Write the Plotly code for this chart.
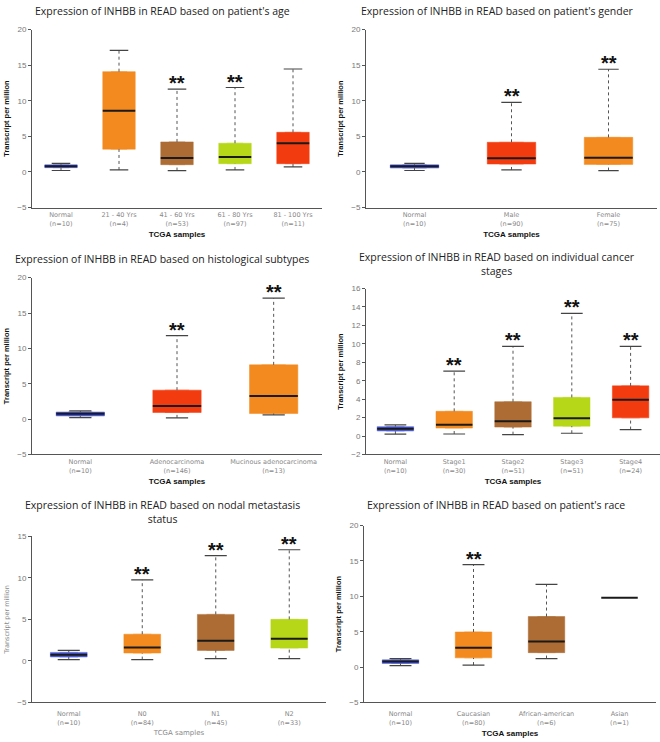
import plotly.graph_objects as go
from plotly.subplots import make_subplots

BLUE = "#4a5ad6"
ORANGE = "#f28a1f"
BROWN = "#ad6c34"
LIME = "#b6d618"
RED = "#f23c10"

# --- patient's age
age_labels = ["Normal<br>(n=10)", "21 - 40 Yrs<br>(n=4)", "41 - 60 Yrs<br>(n=53)",
              "61 - 80 Yrs<br>(n=97)", "81 - 100 Yrs<br>(n=11)"]
age_lower = [0.2, 0.28, 0.19, 0.28, 0.7]
age_q1 = [0.6, 3.2, 1.02, 1.16, 1.16]
age_med = [0.8, 8.6, 1.95, 2.09, 4.04]
age_q3 = [1.0, 14.1, 4.22, 4.04, 5.57]
age_upper = [1.2, 17.1, 11.64, 11.87, 14.47]
age_sig = [False, False, True, True, False]

# --- patient's gender
gender_labels = ["Normal<br>(n=10)", "Male<br>(n=90)", "Female<br>(n=75)"]
gender_lower = [0.2, 0.28, 0.19]
gender_q1 = [0.55, 1.11, 1.06]
gender_med = [0.8, 1.94, 1.99]
gender_q3 = [1.0, 4.17, 4.86]
gender_upper = [1.2, 9.77, 14.44]
gender_sig = [False, True, True]

# --- histological subtypes
histo_labels = ["Normal<br>(n=10)", "Adenocarcinoma<br>(n=146)", "Mucinous adenocarcinoma<br>(n=13)"]
histo_lower = [0.2, 0.18, 0.6]
histo_q1 = [0.45, 0.93, 0.79]
histo_med = [0.75, 1.86, 3.25]
histo_q3 = [1.0, 4.09, 7.67]
histo_upper = [1.15, 11.8, 17.1]
histo_sig = [False, True, True]

# --- individual cancer stages
stage_labels = ["Normal<br>(n=10)", "Stage1<br>(n=30)", "Stage2<br>(n=51)",
                "Stage3<br>(n=51)", "Stage4<br>(n=24)"]
stage_lower = [0.2, 0.22, 0.15, 0.3, 0.7]
stage_q1 = [0.55, 0.86, 0.97, 1.07, 1.97]
stage_med = [0.8, 1.22, 1.61, 1.93, 3.94]
stage_q3 = [1.02, 2.68, 3.72, 4.19, 5.44]
stage_upper = [1.2, 7.05, 9.73, 13.31, 9.73]
stage_sig = [False, True, True, True, True]

# --- nodal metastasis status
nodal_labels = ["Normal<br>(n=10)", "N0<br>(n=84)", "N1<br>(n=45)", "N2<br>(n=33)"]
nodal_lower = [0.16, 0.16, 0.28, 0.28]
nodal_q1 = [0.48, 0.95, 1.27, 1.55]
nodal_med = [0.76, 1.63, 2.43, 2.66]
nodal_q3 = [1.03, 3.22, 5.61, 5.01]
nodal_upper = [1.27, 9.78, 12.68, 13.4]
nodal_sig = [False, True, True, True]

# --- patient's race
race_labels = ["Normal<br>(n=10)", "Caucasian<br>(n=80)", "African-american<br>(n=6)", "Asian<br>(n=1)"]
race_lower = [0.19, 0.28, 1.2, 9.79]
race_q1 = [0.51, 1.3, 2.04, 9.79]
race_med = [0.79, 2.74, 3.62, 9.79]
race_q3 = [1.02, 4.96, 7.14, 9.79]
race_upper = [1.2, 14.47, 11.69, 9.79]
race_sig = [False, True, False, False]

panels = [
    dict(title="Expression of INHBB in READ based on patient's age",
         labels=age_labels, lower=age_lower, q1=age_q1, med=age_med, q3=age_q3, upper=age_upper,
         sig=age_sig, colors=[BLUE, ORANGE, BROWN, LIME, RED], yrange=[-5, 20], dtick=5,
         bw=0.56, cw=0.32, xdom=[32, 322], ydom=[26, 206], tpos=(162, 7), plain=False, lgap=1),
    dict(title="Expression of INHBB in READ based on patient's gender",
         labels=gender_labels, lower=gender_lower, q1=gender_q1, med=gender_med, q3=gender_q3,
         upper=gender_upper, sig=gender_sig, colors=[BLUE, RED, ORANGE], yrange=[-5, 20], dtick=5,
         bw=0.5, cw=0.21, xdom=[366, 657], ydom=[26, 206], tpos=(497, 7), plain=False, lgap=1),
    dict(title="Expression of INHBB in READ based on histological subtypes",
         labels=histo_labels, lower=histo_lower, q1=histo_q1, med=histo_med, q3=histo_q3,
         upper=histo_upper, sig=histo_sig, colors=[BLUE, RED, ORANGE], yrange=[-5, 20], dtick=5,
         bw=0.5, cw=0.23, xdom=[32, 322], ydom=[277, 456], tpos=(162, 258), plain=False, lgap=1),
    dict(title="Expression of INHBB in READ based on individual cancer<br>stages",
         labels=stage_labels, lower=stage_lower, q1=stage_q1, med=stage_med, q3=stage_q3,
         upper=stage_upper, sig=stage_sig, colors=[BLUE, ORANGE, BROWN, LIME, RED], yrange=[-2, 16],
         dtick=2, bw=0.62, cw=0.37, xdom=[366, 660], ydom=[288, 456], tpos=(497, 263.5), plain=False,
         lgap=1),
    dict(title="Expression of INHBB in READ based on nodal metastasis<br>status",
         labels=nodal_labels, lower=nodal_lower, q1=nodal_q1, med=nodal_med, q3=nodal_q3,
         upper=nodal_upper, sig=nodal_sig, colors=[BLUE, ORANGE, BROWN, LIME], yrange=[-5, 15],
         dtick=5, bw=0.5, cw=0.3, xdom=[32, 326], ydom=[539, 707], tpos=(162, 514.5), plain=True,
         lgap=5),
    dict(title="Expression of INHBB in READ based on patient's race",
         labels=race_labels, lower=race_lower, q1=race_q1, med=race_med, q3=race_q3,
         upper=race_upper, sig=race_sig, colors=[BLUE, ORANGE, BROWN, BROWN], yrange=[-5, 20],
         dtick=5, bw=0.5, cw=0.3, xdom=[364, 656], ydom=[528, 707], tpos=(496, 507), plain=False,
         lgap=5),
]

W, H = 660, 742
fig = make_subplots(rows=3, cols=2)

for k, p in enumerate(panels):
    row, col = k // 2 + 1, k % 2 + 1
    n = len(p["labels"])
    xs = list(range(n))
    whx, why, capx, capy, medx, medy = [], [], [], [], [], []
    for i in xs:
        lo, a, m, b, hi = p["lower"][i], p["q1"][i], p["med"][i], p["q3"][i], p["upper"][i]
        if b > a:
            fig.add_trace(go.Box(x=[i], q1=[a], median=[m], q3=[b], lowerfence=[a], upperfence=[b],
                                 width=p["bw"], fillcolor=p["colors"][i],
                                 line=dict(color=p["colors"][i], width=0.5),
                                 hoverinfo="skip"), row=row, col=col)
        if hi > b:
            whx += [i, i, None]
            why += [b, hi, None]
            capx += [i - p["cw"] / 2, i + p["cw"] / 2, None]
            capy += [hi, hi, None]
        if lo < a:
            whx += [i, i, None]
            why += [lo, a, None]
            capx += [i - p["cw"] / 2, i + p["cw"] / 2, None]
            capy += [lo, lo, None]
        medx += [i - p["bw"] / 2, i + p["bw"] / 2, None]
        medy += [m, m, None]
        if p["sig"][i]:
            fig.add_annotation(x=i, y=hi, text="<b>**</b>", showarrow=False, yanchor="bottom",
                               yshift=-7, font=dict(size=20, color="#111", family="Liberation Sans"),
                               row=row, col=col)
    fig.add_trace(go.Scatter(x=whx, y=why, mode="lines", line=dict(color="#555", width=1, dash="dot"),
                             hoverinfo="skip"), row=row, col=col)
    fig.add_trace(go.Scatter(x=capx, y=capy, mode="lines", line=dict(color="#444", width=1.2),
                             hoverinfo="skip"), row=row, col=col)
    fig.add_trace(go.Scatter(x=medx, y=medy, mode="lines", line=dict(color="#1a1a1a", width=2),
                             hoverinfo="skip"), row=row, col=col)

    if p["plain"]:
        xt_font = dict(size=7, color="#888", family="DejaVu Sans")
        yt_font = dict(size=6.5, color="#888", family="DejaVu Sans")
        xt, yt = "TCGA samples", "Transcript per million"
    else:
        xt_font = dict(size=8, color="#111", family="Liberation Sans")
        yt_font = dict(size=7.5, color="#111", family="Liberation Sans")
        xt, yt = "<b>TCGA samples</b>", "<b>Transcript per million</b>"
    fig.update_xaxes(domain=[p["xdom"][0] / W, p["xdom"][1] / W], range=[-0.5, n - 0.5],
                     tickvals=xs, ticktext=p["labels"], showline=True, linecolor="#555",
                     linewidth=1, ticks="", showgrid=False, zeroline=False,
                     ticklabelstandoff=p["lgap"],
                     tickfont=dict(size=6.5, color="#888", family="DejaVu Sans"),
                     title=dict(text=xt, font=xt_font, standoff=4), row=row, col=col)
    fig.update_yaxes(domain=[1 - p["ydom"][1] / H, 1 - p["ydom"][0] / H], range=p["yrange"],
                     dtick=p["dtick"], showline=True, linecolor="#555", linewidth=1,
                     ticks="outside", ticklen=3, tickcolor="#555", showgrid=False, zeroline=False,
                     tickfont=dict(size=8, color="#777", family="Liberation Sans"),
                     title=dict(text=yt, font=yt_font, standoff=6), row=row, col=col)
    fig.add_annotation(x=p["tpos"][0] / W, y=1 - p["tpos"][1] / H, xref="paper", yref="paper",
                       text=p["title"], showarrow=False, xanchor="center", yanchor="middle",
                       font=dict(size=10.5, color="#222", family="Open Sans"))

fig.update_layout(width=W, height=H, margin=dict(l=0, r=0, t=0, b=0), showlegend=False,
                  boxmode="overlay", plot_bgcolor="white", paper_bgcolor="white")

fig.write_html("out.html", config={"displayModeBar": False},
               post_script="document.body.style.margin = '0px';")
